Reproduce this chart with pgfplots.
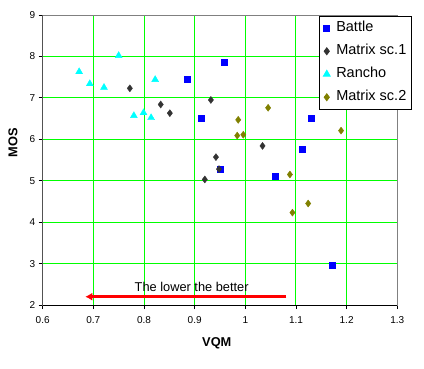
\documentclass[border=0pt]{standalone}
\usepackage{fontspec}
\setmainfont{Liberation Sans}
\usepackage{pgfplots}
\pgfplotsset{compat=1.18}
\usetikzlibrary{arrows.meta}
\definecolor{gridgreen}{HTML}{00FF00}
\definecolor{mxone}{HTML}{333333}
\definecolor{mxtwo}{HTML}{808000}
\definecolor{battleblue}{HTML}{0000FF}
\definecolor{ranchocyan}{HTML}{00FFFF}
\begin{document}
\begin{tikzpicture}
\begin{axis}[
  scale only axis, width=354.6pt, height=290pt,
  xmin=0.6, xmax=1.3, ymin=2, ymax=9,
  xtick={0.6,0.7,0.8,0.9,1.0,1.1,1.2,1.3},
  xticklabels={0.6,0.7,0.8,0.9,1,1.1,1.2,1.3},
  ytick={2,3,4,5,6,7,8,9},
  xtick pos=bottom, ytick pos=left,
  tick align=outside, major tick length=4pt,
  tick style={black, line width=0.8pt},
  grid=major,
  major grid style={gridgreen, line width=1pt},
  axis line style={draw=gray, line width=1pt},
  /pgf/number format/assume math mode=true,
  tick label style={font=\fontsize{10}{12}\selectfont},
  xticklabel style={yshift=-4pt},
  xlabel={\textbf{VQM}}, ylabel={\textbf{MOS}},
  xlabel style={font=\fontsize{12.8}{14}\selectfont, at={(axis description cs:0.491,-0.131)}, anchor=center},
  ylabel style={font=\fontsize{12.8}{14}\selectfont, at={(axis description cs:-0.0838,0.56)}, anchor=center},
  legend cell align=left,
  legend image code/.code={\draw[#1] plot coordinates {(0pt,0pt)};},
  legend style={at={(0.779,0.998)}, anchor=north west, draw=black, line width=0.8pt, fill=white,
    font=\fontsize{14.5}{17}\selectfont, inner sep=4pt, row sep=6.5pt,
    nodes={text height=11pt, text depth=3.5pt, inner sep=1pt},
    /tikz/every odd column/.append style={column sep=5pt}},
]
\addplot[only marks, mark=square*, mark size=3pt, color=battleblue] coordinates {
(0.886,7.46) (0.959,7.85) (0.912,6.52) (0.950,5.27) (1.130,6.50) (1.112,5.77) (1.059,5.12) (1.171,2.97)
};
\addlegendentry{Battle}
\addplot[only marks, mark=diamond*, mark size=3.5pt, color=mxone] coordinates {
(0.772,7.23) (0.833,6.84) (0.851,6.63) (0.932,6.95) (0.942,5.57) (0.948,5.28) (0.920,5.03) (1.034,5.84)
};
\addlegendentry{Matrix sc.1}
\addplot[only marks, mark=triangle*, mark size=4pt, color=ranchocyan] coordinates {
(0.672,7.63) (0.693,7.34) (0.721,7.25) (0.750,8.02) (0.822,7.44) (0.780,6.57) (0.799,6.64) (0.814,6.52)
};
\addlegendentry{Rancho}
\addplot[only marks, mark=diamond*, mark size=3.5pt, color=mxtwo] coordinates {
(1.045,6.76) (0.986,6.47) (0.984,6.09) (0.996,6.11) (1.189,6.21) (1.088,5.15) (1.124,4.45) (1.093,4.23)
};
\addlegendentry{Matrix sc.2}
\draw[black, line width=1pt] (rel axis cs:0,1) -- (rel axis cs:0,0) -- (rel axis cs:1,0);
\draw[red, line width=3pt, -{Latex[length=7pt,width=8pt]}] (axis cs:1.081,2.2) -- (axis cs:0.684,2.2);
\node[font=\fontsize{12.8}{14}\selectfont] at (axis cs:0.894,2.44) {The lower the better};
\end{axis}
\path (current axis.south west) ++(-42.7pt,-63pt) rectangle ++(424pt,368pt);
\end{tikzpicture}
\end{document}
